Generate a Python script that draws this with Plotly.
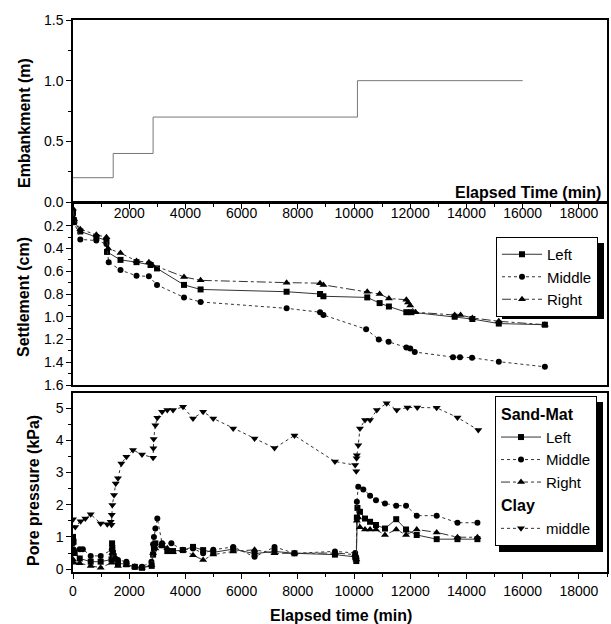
import plotly.graph_objects as go

# ---------------- data ----------------
emb_t = [0, 1430, 2850, 10120, 16000]
emb_h = [0.2, 0.4, 0.7, 1.0, 1.0]

set_left_t = [0, 30, 260, 830, 1190, 1210, 1690, 2260, 2760, 2990, 3950, 4540, 7600, 8790, 8910,
              10470, 10910, 11240, 11860, 12040, 13580, 14210, 15150, 16790]
set_left_s = [0.08, 0.15, 0.25, 0.30, 0.33, 0.43, 0.50, 0.52, 0.545, 0.575, 0.72, 0.76, 0.78, 0.80, 0.82,
              0.83, 0.88, 0.91, 0.96, 0.96, 1.00, 1.02, 1.06, 1.07]
set_mid_t = [0, 50, 260, 830, 1190, 1270, 1690, 2260, 2700, 2990, 3950, 4540, 7600, 8790, 8910,
             10430, 10880, 11230, 11860, 12000, 12160, 13520, 13770, 14200, 15150, 16790]
set_mid_s = [0.10, 0.17, 0.32, 0.33, 0.36, 0.52, 0.59, 0.64, 0.645, 0.72, 0.83, 0.87, 0.926, 0.96, 0.985,
             1.11, 1.20, 1.22, 1.27, 1.28, 1.31, 1.355, 1.355, 1.36, 1.395, 1.44]
set_right_t = [0, 40, 260, 830, 1190, 1250, 1690, 2260, 2700, 2800, 3950, 4540, 7600, 8790, 8910,
               10470, 10910, 11240, 11860, 11920, 12000, 12190, 13580, 13790, 14210, 15150, 16790]
set_right_s = [0.05, 0.14, 0.23, 0.28, 0.30, 0.40, 0.44, 0.51, 0.52, 0.54, 0.65, 0.68, 0.70, 0.705, 0.72,
               0.78, 0.80, 0.84, 0.85, 0.875, 0.90, 0.96, 0.985, 0.985, 1.01, 1.04, 1.07]

pp_left_t = [0, 20, 60, 240, 630, 985, 1370, 1390, 1400, 1420, 1450, 1500, 1600, 1900, 2200, 2455,
             2800, 2850, 2880, 2930, 3170, 3355, 3560, 3910, 4270, 4630, 4990, 5700, 6460, 7170, 7880,
             9320, 10040, 10080, 10100, 10120, 10210, 10390, 10570, 10780, 11100, 11500, 11850, 12230,
             12940, 13680, 14390]
pp_left_p = [1.0, 0.85, 0.5, 0.33, 0.23, 0.23, 0.3, 0.8, 0.65, 0.5, 0.4, 0.3, 0.18, 0.15, 0.07, 0.04,
             0.1, 0.45, 0.64, 0.8, 0.74, 0.56, 0.56, 0.59, 0.69, 0.59, 0.52, 0.62, 0.48, 0.55, 0.49,
             0.45, 0.38, 0.25, 1.6, 1.9, 1.78, 1.57, 1.47, 1.37, 1.26, 1.55, 1.23, 1.06,
             0.93, 0.93, 0.93]
pp_mid_t = [0, 30, 240, 350, 630, 985, 1380, 1400, 1420, 1480, 1600, 1900, 2200, 2455, 2790, 2850,
            2880, 2930, 3000, 3170, 3500, 3910, 4270, 4630, 4990, 5700, 6460, 7170, 7880, 9320,
            10040, 10080, 10100, 10150, 10330, 10570, 10780, 11100, 11500, 11850, 12230, 12940,
            13680, 14390]
pp_mid_p = [0.8, 0.6, 0.62, 0.62, 0.41, 0.41, 0.6, 0.45, 0.35, 0.33, 0.28, 0.23, 0.07, 0.07, 0.23, 0.77,
            1.0, 1.26, 1.57, 0.80, 0.80, 0.59, 0.64, 0.49, 0.6, 0.69, 0.38, 0.69, 0.49, 0.55,
            0.5, 0.35, 2.09, 2.56, 2.47, 2.28, 2.14, 2.04, 1.97, 1.97, 1.66, 1.66,
            1.44, 1.44]
pp_right_t = [0, 30, 240, 630, 985, 1380, 1400, 1450, 1600, 1900, 2200, 2455, 2790, 2850, 2930, 3170,
              3355, 3560, 3910, 4270, 4630, 4990, 5700, 6460, 7170, 7880, 9320, 10040, 10080, 10100,
              10150, 10210, 10390, 10570, 10780, 11100, 11500, 11850, 12230, 12940, 13680, 14390]
pp_right_p = [0.3, 0.2, 0.18, 0.1, 0.04, 0.2, 0.5, 0.3, 0.1, 0.12, 0.07, 0.04, 0.13, 0.5, 0.64, 0.74,
              0.65, 0.53, 0.59, 0.43, 0.28, 0.45, 0.55, 0.6, 0.49, 0.49, 0.5, 0.45, 0.3, 1.5,
              1.6, 1.3, 1.23, 1.23, 1.23, 1.06, 1.23, 1.06, 1.23, 1.14, 0.99, 0.99]
pp_clay_t = [0, 80, 270, 440, 630, 985, 1220, 1340, 1370, 1380, 1400, 1460, 1520, 1600, 1720, 1900,
             2135, 2455, 2850, 2860, 2870, 2930, 3000, 3170, 3355, 3560, 3915, 4270, 4630, 4990, 5700,
             6460, 7170, 7880, 9320, 10040, 10080, 10090, 10100, 10150, 10210, 10390, 10570, 10810,
             11160, 11520, 11900, 12250, 12940, 13680, 14420]
pp_clay_p = [1.55, 1.31, 1.49, 1.57, 1.70, 1.42, 1.39, 1.47, 1.38, 1.69, 1.99, 2.30, 2.66, 2.82, 3.28, 3.49,
             3.70, 3.56, 3.46, 3.75, 4.04, 4.47, 4.70, 4.89, 4.94, 4.94, 5.04, 4.68, 4.89, 4.68, 4.37,
             4.06, 3.76, 4.15, 3.34, 3.23, 3.04, 3.44, 3.54, 3.85, 4.37, 4.63, 4.63, 4.94,
             5.15, 4.94, 5.02, 5.02, 5.01, 4.71, 4.32]

x_ticks = [0, 2000, 4000, 6000, 8000, 10000, 12000, 14000, 16000, 18000]
x_labels = [str(v) for v in x_ticks]

# ---------------- figure ----------------
FONT = "Liberation Sans"
LC = "#333333"
fig = go.Figure()

fig.add_trace(go.Scatter(x=emb_t, y=emb_h, mode="lines", line=dict(color="#777777", width=1, shape="hv"),
                         showlegend=False, xaxis="x", yaxis="y"))

def series(t, v, name, sym, dash, xa, ya, leg, group=None, gtitle=None, msize=6):
    kw = {}
    if group:
        kw["legendgroup"] = group
        if gtitle:
            kw["legendgrouptitle"] = dict(text="<b>" + gtitle + "</b>",
                                          font=dict(family=FONT, size=16, color="black"))
    fig.add_trace(go.Scatter(x=t, y=v, name=name, mode="lines+markers",
                             line=dict(color=LC, width=1, dash=dash),
                             marker=dict(symbol=sym, size=msize, color="black"),
                             xaxis=xa, yaxis=ya, legend=leg, **kw))

series(set_left_t, set_left_s, "Left", "square", "solid", "x2", "y2", "legend")
series(set_mid_t, set_mid_s, "Middle", "circle", "dot", "x2", "y2", "legend")
series(set_right_t, set_right_s, "Right", "triangle-up", "dashdot", "x2", "y2", "legend", msize=7)

series(pp_left_t, pp_left_p, "Left", "square", "solid", "x3", "y3", "legend2", "sand", "Sand-Mat")
series(pp_mid_t, pp_mid_p, "Middle", "circle", "dot", "x3", "y3", "legend2", "sand")
series(pp_right_t, pp_right_p, "Right", "triangle-up", "dashdot", "x3", "y3", "legend2", "sand", msize=7)
series(pp_clay_t, pp_clay_p, "middle", "triangle-down", "dot", "x3", "y3", "legend2", "clay", "Clay", msize=7)

W, H = 611, 624
def px(xp):
    return xp / W
def py(yp):
    return 1 - yp / H

xl, xr = px(73), px(607)
axis_common = dict(showline=True, linecolor="black", linewidth=1.5, mirror=True, showgrid=False,
                   zeroline=False, tickfont=dict(family=FONT, size=14, color="black"),
                   ticklen=5, tickcolor="black", automargin=False)

fig.update_layout(
    width=W, height=H, margin=dict(l=0, r=0, t=0, b=0),
    paper_bgcolor="white", plot_bgcolor="white",
    font=dict(family=FONT, color="black"),
    xaxis=dict(domain=[xl, xr], range=[0, 19000], anchor="y", tickvals=x_ticks, showticklabels=False,
               ticks="outside", minor=dict(dtick=1000, ticks="outside", ticklen=3, tickcolor="black"),
               **axis_common),
    yaxis=dict(domain=[py(202), py(20)], range=[0, 1.5], anchor="x", tickvals=[0, 0.5, 1.0, 1.5],
               ticktext=["0.0", "0.5", "1.0", "1.5"], ticks="outside",
               minor=dict(dtick=0.25, ticks="outside", ticklen=3, tickcolor="black"), **axis_common),
    xaxis2=dict(domain=[xl, xr], range=[0, 19000], anchor="y2", side="top", tickvals=x_ticks,
                ticktext=[""] + x_labels[1:],
                ticks="inside", ticklabelposition="inside",
                minor=dict(dtick=1000, ticks="inside", ticklen=3, tickcolor="black"), **axis_common),
    yaxis2=dict(domain=[py(385), py(203)], range=[1.6, 0], anchor="x2",
                tickvals=[0, 0.2, 0.4, 0.6, 0.8, 1.0, 1.2, 1.4, 1.6], tickformat=".1f", ticks="outside",
                minor=dict(dtick=0.1, ticks="outside", ticklen=3, tickcolor="black"), **axis_common),
    xaxis3=dict(domain=[xl, xr], range=[0, 19000], anchor="y3", tickvals=x_ticks, ticktext=x_labels,
                ticks="outside",
                minor=dict(dtick=1000, ticks="outside", ticklen=3, tickcolor="black"), **axis_common),
    yaxis3=dict(domain=[py(572), py(393)], range=[-0.09, 5.47], anchor="x3", tickvals=[0, 1, 2, 3, 4, 5],
                ticks="outside", minor=dict(dtick=0.5, ticks="outside", ticklen=3, tickcolor="black"),
                **axis_common),
    legend=dict(x=px(598), y=py(237), xanchor="right", yanchor="top", bgcolor="white",
                bordercolor="black", borderwidth=1, font=dict(family=FONT, size=15, color="black"),
                itemwidth=40, tracegroupgap=0),
    legend2=dict(x=px(597), y=py(396), xanchor="right", yanchor="top", bgcolor="white",
                 bordercolor="black", borderwidth=1, font=dict(family=FONT, size=15, color="black"),
                 itemwidth=40, tracegroupgap=0, traceorder="grouped"),
    shapes=[
        dict(type="rect", xref="paper", yref="paper", x0=px(502), x1=px(604), y0=py(319), y1=py(243),
             fillcolor="black", line=dict(width=0), layer="above"),
        dict(type="rect", xref="paper", yref="paper", x0=px(499), x1=px(603), y0=py(552), y1=py(402),
             fillcolor="black", line=dict(width=0), layer="above"),
    ],
    annotations=[
        dict(text="<b>Embankment (m)</b>", x=px(25), y=py(123), xref="paper", yref="paper", textangle=-90,
             xanchor="center", yanchor="middle", showarrow=False,
             font=dict(family=FONT, size=16, color="black")),
        dict(text="<b>Settlement (cm)</b>", x=px(23), y=py(297), xref="paper", yref="paper", textangle=-90,
             xanchor="center", yanchor="middle", showarrow=False,
             font=dict(family=FONT, size=16, color="black")),
        dict(text="<b>Pore pressure (kPa)</b>", x=px(33), y=py(491), xref="paper", yref="paper", textangle=-90,
             xanchor="center", yanchor="middle", showarrow=False,
             font=dict(family=FONT, size=16, color="black")),
        dict(text="<b>Elapsed Time (min)</b>", x=px(603), y=py(192), xref="paper", yref="paper",
             xanchor="right", yanchor="middle", showarrow=False, font=dict(family=FONT, size=16, color="black")),
        dict(text="<b>Elapsed time (min)</b>", x=px(341), y=py(615), xref="paper", yref="paper",
             xanchor="center", yanchor="middle", showarrow=False, font=dict(family=FONT, size=16, color="black")),
    ],
)

fig.write_html("out.html")
